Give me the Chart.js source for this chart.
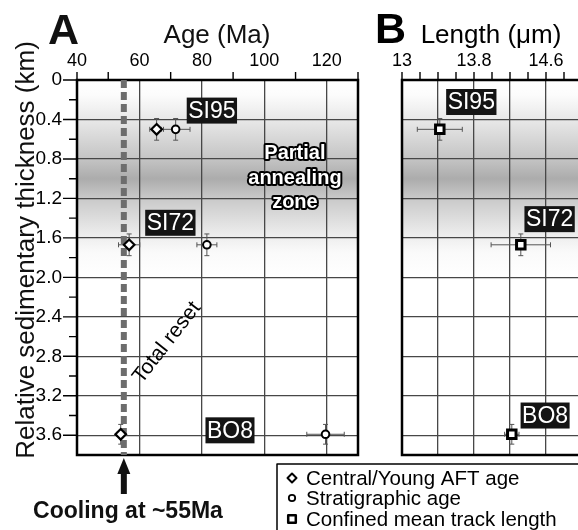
<!DOCTYPE html>
<html><head><meta charset="utf-8">
<script src="https://cdn.jsdelivr.net/npm/chart.js@4.4.0/dist/chart.umd.min.js"></script>
<style>
html,body{margin:0;padding:0;background:#fff;overflow:hidden;width:578px;height:530px;position:relative}
canvas{position:absolute;left:0;top:0}
</style></head><body>
<canvas id="chartA" width="578" height="530"></canvas>
<canvas id="chartB" width="600" height="530"></canvas>
<script>
// ---------------- data ----------------
const samples = ['SI95', 'SI72', 'BO8'];
const depthKm = [0.5, 1.67, 3.59];
const depthErr = [0.11, 0.11, 0.1];
const aftAge = [65.5, 56.7, 54.0];          // Central/Young AFT age (Ma)
const aftAgeErr = [2.2, 3.4, 1.2];
const stratAge = [71.6, 81.6, 119.6];       // Stratigraphic age (Ma)
const stratAgeErr = [4.6, 3.2, 6.0];
const trackLength = [13.42, 14.32, 14.22];  // Confined mean track length (um)
const trackLengthErr = [0.25, 0.33, 0.08];
const coolingAge = 55;
const ageTickLabels = ['40', '60', '80', '100', '120'];
const lengthTickLabels = ['13', '13.8', '14.6'];
const depthTickLabels = ['0', '0.4', '0.8', '1.2', '1.6', '2.0', '2.4', '2.8', '3.2', '3.6'];
const legendLabels = ['Central/Young AFT age', 'Stratigraphic age', 'Confined mean track length'];

// ---------------- annotation placement (data coordinates) ----------------
const tagPosA = [[83.2, 0.31], [69.9, 1.447], [89.0, 3.55]];
const tagPosB = [[13.77, 0.223], [14.64, 1.41], [14.59, 3.40]];
const pazPos = [109.8, [0.74, 0.995, 1.24]];
const resetPos = [68.8, 2.66];

// ---------------- styles ----------------
const FONT = '"Liberation Sans", Arial, Helvetica, sans-serif';
const GRID = '#474747';
const NONE = 'rgba(0,0,0,0)';
const shadeStops = [[0, '#ffffff'], [0.15, '#fcfcfc'], [0.45, '#e4e4e4'], [0.8, '#c4c4c4'], [1.0, '#acacac'], [1.2, '#c9c9c9'], [1.55, '#ebebeb'], [1.75, '#fafafa'], [2.0, '#ffffff']];

function near(v, step, base) { const q = (v - (base || 0)) / step; return Math.abs(q - Math.round(q)) < 1e-6; }
function pick(list, v) { const l = list.find(s => Math.abs(parseFloat(s) - v) < 1e-6); return l === undefined ? '' : l; }

const shadePlugin = {
  id: 'shade',
  beforeDraw(chart) {
    const {ctx, chartArea: a, scales: {y}} = chart;
    const y0 = y.getPixelForValue(0), y1 = y.getPixelForValue(2.0);
    const g = ctx.createLinearGradient(0, y0, 0, y1);
    shadeStops.forEach(([d, c]) => g.addColorStop(d / 2.0, c));
    ctx.save();
    ctx.fillStyle = g;
    ctx.fillRect(a.left, a.top, a.right - a.left, a.bottom - a.top);
    ctx.restore();
  }
};

const framePlugin = {
  id: 'frame',
  beforeDatasetsDraw(chart) {
    const {ctx, chartArea: a} = chart;
    ctx.save();
    ctx.strokeStyle = '#000';
    ctx.lineWidth = 2.5;
    ctx.strokeRect(a.left, a.top, a.right - a.left, a.bottom - a.top);
    ctx.restore();
  }
};

const errPlugin = {
  id: 'err',
  beforeDatasetsDraw(chart) {
    const {ctx, scales: {x, y}} = chart;
    ctx.save();
    ctx.strokeStyle = '#555';
    ctx.lineWidth = 1;
    chart.data.datasets.forEach(ds => {
      if (!ds.errX) return;
      ds.data.forEach((p, i) => {
        const px = x.getPixelForValue(p.x), py = y.getPixelForValue(p.y);
        const xl = x.getPixelForValue(p.x - ds.errX[i]), xr = x.getPixelForValue(p.x + ds.errX[i]);
        const yt = y.getPixelForValue(p.y - ds.errY[i]), yb = y.getPixelForValue(p.y + ds.errY[i]);
        const c = 2.5;
        ctx.beginPath();
        ctx.moveTo(xl, py); ctx.lineTo(xr, py);
        ctx.moveTo(xl, py - c); ctx.lineTo(xl, py + c);
        ctx.moveTo(xr, py - c); ctx.lineTo(xr, py + c);
        ctx.moveTo(px, yt); ctx.lineTo(px, yb);
        ctx.moveTo(px - c, yt); ctx.lineTo(px + c, yt);
        ctx.moveTo(px - c, yb); ctx.lineTo(px + c, yb);
        ctx.stroke();
      });
    });
    ctx.restore();
  }
};

function tickMarks(chart, xLen, yLen) {
  const {ctx, chartArea: a, scales: {x, y}} = chart;
  ctx.save();
  ctx.strokeStyle = '#000';
  ctx.lineWidth = 1.4;
  ctx.beginPath();
  x.ticks.forEach(t => {
    const len = xLen(t.value); if (!len) return;
    const px = x.getPixelForValue(t.value);
    ctx.moveTo(px, a.top); ctx.lineTo(px, a.top - len);
  });
  if (yLen) y.ticks.forEach(t => {
    const len = yLen(t.value); if (!len) return;
    const py = y.getPixelForValue(t.value);
    ctx.moveTo(a.left, py); ctx.lineTo(a.left - len, py);
  });
  ctx.stroke();
  ctx.restore();
}

function tag(ctx, text, cx, cy) {
  ctx.font = '23px ' + FONT;
  const w = ctx.measureText(text).width + 3, h = 26;
  ctx.fillStyle = '#141414';
  ctx.fillRect(cx - w / 2, cy - h / 2, w, h);
  ctx.fillStyle = '#fff';
  ctx.textAlign = 'center';
  ctx.textBaseline = 'middle';
  ctx.fillText(text, cx, cy + 1);
}

function marker(ctx, style, x, y, r, lw) {
  ctx.save();
  ctx.fillStyle = '#fff'; ctx.strokeStyle = '#000'; ctx.lineWidth = lw;
  ctx.beginPath();
  if (style === 'diamond') { ctx.moveTo(x - r, y); ctx.lineTo(x, y - r); ctx.lineTo(x + r, y); ctx.lineTo(x, y + r); ctx.closePath(); }
  else if (style === 'circle') { ctx.arc(x, y, r, 0, Math.PI * 2); }
  else { ctx.rect(x - r, y - r, 2 * r, 2 * r); }
  ctx.fill(); ctx.stroke();
  ctx.restore();
}

const annotA = {
  id: 'annotA',
  afterDraw(chart) {
    const {ctx, scales: {x, y}} = chart;
    tickMarks(chart,
      v => (near(v, 20) && v !== 40) ? 0 : 8,
      v => v >= 3.79 ? 0 : (near(v, 0.4) ? 14 : 8));
    ctx.save();
    samples.forEach((s, i) => tag(ctx, s, x.getPixelForValue(tagPosA[i][0]), y.getPixelForValue(tagPosA[i][1])));
    // Partial annealing zone
    ctx.font = 'bold 20px ' + FONT;
    ctx.textAlign = 'center'; ctx.textBaseline = 'middle';
    ctx.lineJoin = 'round'; ctx.lineWidth = 4; ctx.strokeStyle = '#000'; ctx.fillStyle = '#fff';
    ['Partial', 'annealing', 'zone'].forEach((t, i) => {
      const px = x.getPixelForValue(pazPos[0]), py = y.getPixelForValue(pazPos[1][i]);
      ctx.strokeText(t, px, py); ctx.fillText(t, px, py);
    });
    // Total reset
    ctx.save();
    ctx.translate(x.getPixelForValue(resetPos[0]), y.getPixelForValue(resetPos[1]));
    ctx.rotate(-52 * Math.PI / 180);
    ctx.font = '21px ' + FONT; ctx.fillStyle = '#000';
    ctx.fillText('Total reset', 0, 0);
    ctx.restore();
    // arrow + cooling text
    const ax = x.getPixelForValue(coolingAge);
    ctx.fillStyle = '#111';
    ctx.beginPath(); ctx.moveTo(ax, 458); ctx.lineTo(ax + 6.5, 474); ctx.lineTo(ax - 6.5, 474); ctx.closePath(); ctx.fill();
    ctx.fillRect(ax - 3, 472, 6, 22);
    ctx.font = 'bold 23px ' + FONT; ctx.textBaseline = 'alphabetic'; ctx.textAlign = 'center';
    ctx.fillText('Cooling at ~55Ma', 128, 518);
    // Titles
    ctx.textAlign = 'left';
    ctx.font = 'bold 43px ' + FONT; ctx.fillText('A', 48, 44);
    ctx.textAlign = 'center';
    ctx.font = '26px ' + FONT; ctx.fillText('Age (Ma)', 217, 43);
    ctx.save();
    ctx.translate(34, 250); ctx.rotate(-Math.PI / 2);
    ctx.fillText('Relative sedimentary thickness (km)', 0, 0);
    ctx.restore();
    // Legend
    ctx.strokeStyle = '#000'; ctx.lineWidth = 1.5;
    ctx.strokeRect(277, 464, 330, 90);
    ctx.font = '20.5px ' + FONT; ctx.textAlign = 'left'; ctx.fillStyle = '#000';
    const rows = [485, 505, 526];
    ctx.fillText(legendLabels[0], 306, rows[0]);
    ctx.fillText(legendLabels[1], 306, rows[1]);
    ctx.fillText(legendLabels[2], 306, rows[2]);
    marker(ctx, 'diamond', 292, 478, 4.5, 2);
    marker(ctx, 'circle', 292, 498, 3.2, 1.8);
    marker(ctx, 'square', 292, 519, 3.8, 2.5);
    ctx.restore();
  }
};

const annotB = {
  id: 'annotB',
  afterDraw(chart) {
    const {ctx, scales: {x, y}} = chart;
    tickMarks(chart, v => 8, null);
    ctx.save();
    samples.forEach((s, i) => tag(ctx, s, x.getPixelForValue(tagPosB[i][0]), y.getPixelForValue(tagPosB[i][1])));
    ctx.fillStyle = '#000'; ctx.textBaseline = 'alphabetic';
    ctx.textAlign = 'left';
    ctx.font = 'bold 43px ' + FONT; ctx.fillText('B', 375, 43);
    ctx.textAlign = 'center';
    ctx.font = '26px ' + FONT; ctx.fillText('Length (\u03bcm)', 491, 43);
    ctx.restore();
  }
};

function depthScale(showLabels) {
  return {
    type: 'linear', reverse: true, min: 0, max: 3.8,
    afterFit: s => { s.width = showLabels ? 77 : 0; },
    border: {display: false},
    grid: {drawTicks: false, lineWidth: 1.3, color: c => (c.tick && near(c.tick.value, 0.4) && c.tick.value > 0.01 && c.tick.value < 3.79) ? GRID : NONE},
    ticks: {display: showLabels, stepSize: 0.2, autoSkip: false, padding: 15, color: '#000', font: {family: FONT, size: 19},
      callback: v => pick(depthTickLabels, v)}
  };
}

const common = {
  responsive: false, animation: false, events: [],
  plugins: {legend: {display: false}, tooltip: {enabled: false}}
};

new Chart(document.getElementById('chartA'), {
  type: 'scatter',
  data: {datasets: [
    {type: 'line', label: 'Total reset', data: [{x: coolingAge, y: 0}, {x: coolingAge, y: 3.8}],
      borderColor: '#6d6d6d', borderWidth: 6, borderDash: [8, 4], pointRadius: 0, order: 10},
    {label: legendLabels[0], data: aftAge.map((v, i) => ({x: v, y: depthKm[i]})), errX: aftAgeErr, errY: depthErr,
      pointStyle: 'rectRot', pointRadius: 5.3, borderWidth: 2.2, borderColor: '#000', backgroundColor: '#fff', order: 1},
    {label: legendLabels[1], data: stratAge.map((v, i) => ({x: v, y: depthKm[i]})), errX: stratAgeErr, errY: depthErr,
      pointStyle: 'circle', pointRadius: 3.8, borderWidth: 2, borderColor: '#000', backgroundColor: '#fff', order: 1}
  ]},
  options: Object.assign({}, common, {
    layout: {padding: {left: 0, top: 0, right: 220, bottom: 75}},
    scales: {
      x: {type: 'linear', position: 'top', min: 40, max: 130,
        afterFit: s => { s.height = 80; },
        border: {display: false},
        grid: {drawTicks: false, lineWidth: 1.3, color: c => (c.tick && near(c.tick.value, 20) && c.tick.value > 40) ? GRID : NONE},
        ticks: {stepSize: 10, autoSkip: false, maxRotation: 0, padding: 8, color: '#000', font: {family: FONT, size: 18},
          callback: v => pick(ageTickLabels, v)}},
      y: depthScale(true)
    }
  }),
  plugins: [shadePlugin, framePlugin, errPlugin, annotA]
});

new Chart(document.getElementById('chartB'), {
  type: 'scatter',
  data: {datasets: [
    {label: legendLabels[2], data: trackLength.map((v, i) => ({x: v, y: depthKm[i]})), errX: trackLengthErr, errY: depthErr,
      pointStyle: 'rect', pointRadius: 6, borderWidth: 3, borderColor: '#000', backgroundColor: '#fff'}
  ]},
  options: Object.assign({}, common, {
    layout: {padding: {left: 402, top: 0, right: 18, bottom: 75}},
    scales: {
      x: {type: 'linear', position: 'top', min: 13, max: 15,
        afterFit: s => { s.height = 80; },
        border: {display: false},
        grid: {drawTicks: false, lineWidth: 1.3, color: c => (c.tick && near(c.tick.value, 0.4, 13) && c.tick.value > 13.01) ? GRID : NONE},
        ticks: {stepSize: 0.2, autoSkip: false, maxRotation: 0, padding: 8, color: '#000', font: {family: FONT, size: 18},
          callback: v => pick(lengthTickLabels, v)}},
      y: depthScale(false)
    }
  }),
  plugins: [shadePlugin, framePlugin, errPlugin, annotB]
});
</script>
</body></html>
